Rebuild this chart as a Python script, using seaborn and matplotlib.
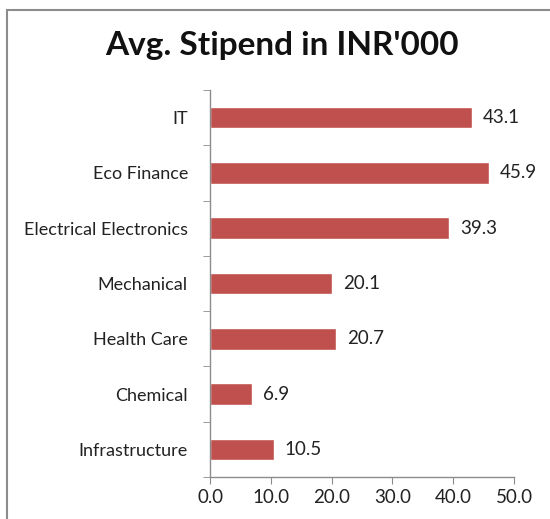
import numpy as np
import pandas as pd
import matplotlib
matplotlib.use("Agg")
import matplotlib.pyplot as plt
import seaborn as sns
from matplotlib.patches import Rectangle
from matplotlib.ticker import FormatStrFormatter, FixedLocator

branches = ["IT", "Eco Finance", "Electrical Electronics", "Mechanical",
            "Health Care", "Chemical", "Infrastructure"]
stipend = [43.1, 45.9, 39.3, 20.1, 20.7, 6.9, 10.5]

df = pd.DataFrame({"branch": branches, "stipend": stipend})

sns.set_style("white")
plt.rcParams["font.family"] = ["Lato", "DejaVu Sans"]

fig = plt.figure(figsize=(5.5, 5.19), dpi=100)
ax = fig.add_axes([0.382, 0.081, 0.5525, 0.7455])

sns.barplot(data=df, x="stipend", y="branch", color="#C0504D", saturation=1,
            width=0.39, orient="h", ax=ax)

ax.set_xlim(0, 50)
ax.set_xticks(np.arange(0, 51, 10))
ax.xaxis.set_major_formatter(FormatStrFormatter("%.1f"))
ax.set_ylim(len(branches) - 0.5, -0.5)
ax.set_xlabel("")
ax.set_ylabel("")

# value labels
for i, v in enumerate(stipend):
    ax.text(v + 1.8, i, f"{v:.1f}", va="center", ha="left", fontsize=13.5, color="#222222")

for s in ["top", "right"]:
    ax.spines[s].set_visible(False)
for s in ["left", "bottom"]:
    ax.spines[s].set_color("#8c8c8c")
    ax.spines[s].set_linewidth(1)

ax.tick_params(axis="x", length=5, color="#8c8c8c", labelsize=13.5, labelcolor="#222222", pad=4,
               direction="out", bottom=True)
ax.tick_params(axis="y", which="major", length=0, labelsize=13, labelcolor="#222222", pad=16)
ax.yaxis.set_minor_locator(FixedLocator(np.arange(-0.5, len(branches), 1)))
ax.tick_params(axis="y", which="minor", length=5, color="#8c8c8c", direction="out", left=True)

fig.text(0.513, 0.913, "Avg. Stipend in INR'000", ha="center", va="center",
         fontsize=24, fontweight="bold", color="#111111")

# chart frame (left and top edges visible)
fig.patches.append(Rectangle((7 / 550, -0.1), 1.2, 1 - 10 / 519 + 0.1, transform=fig.transFigure,
                             fill=False, edgecolor="#8c8c8c", linewidth=1.5, clip_on=False))

fig.savefig("out.png", dpi=100)
